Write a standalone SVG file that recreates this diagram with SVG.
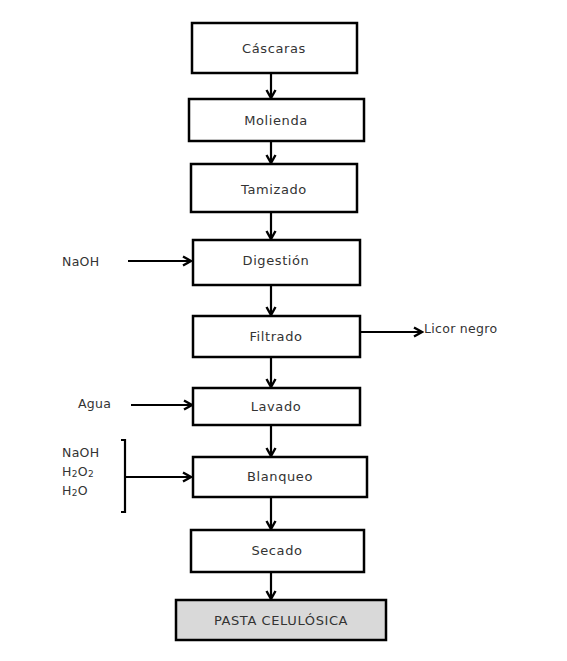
<svg xmlns="http://www.w3.org/2000/svg" width="567" height="661" viewBox="0 0 567 661">
<defs>
<style>
.box{fill:#fff;stroke:#000;stroke-width:2.5}
.end{fill:#d9d9d9;stroke:#000;stroke-width:2.5}
.t{font-family:"DejaVu Sans",Verdana,sans-serif;font-size:13px;letter-spacing:0.6px;fill:#333;text-anchor:middle;dominant-baseline:central}
.l{font-family:"DejaVu Sans",Verdana,sans-serif;font-size:12.5px;letter-spacing:0.3px;fill:#333;dominant-baseline:central}
.s{font-size:9px}
.c{stroke:#000;stroke-width:2.2;fill:none}
</style>
<marker id="a" viewBox="0 0 12 12" refX="10" refY="6" markerWidth="12" markerHeight="12" markerUnits="userSpaceOnUse" orient="auto">
<path d="M2,1.5 L10,6 L2,10.5" fill="none" stroke="#000" stroke-width="2.4"/>
</marker>
</defs>
<rect width="567" height="661" fill="#fff"/>
<g id="connectors">
<line class="c" x1="271" y1="73" x2="271" y2="98" marker-end="url(#a)"/>
<line class="c" x1="271" y1="141" x2="271" y2="163" marker-end="url(#a)"/>
<line class="c" x1="271" y1="212" x2="271" y2="239" marker-end="url(#a)"/>
<line class="c" x1="271" y1="285" x2="271" y2="315" marker-end="url(#a)"/>
<line class="c" x1="271" y1="357" x2="271" y2="387" marker-end="url(#a)"/>
<line class="c" x1="271" y1="425" x2="271" y2="456" marker-end="url(#a)"/>
<line class="c" x1="271" y1="497" x2="271" y2="529" marker-end="url(#a)"/>
<line class="c" x1="271" y1="572" x2="271" y2="599" marker-end="url(#a)"/>
<line class="c" x1="128" y1="261" x2="191" y2="261" marker-end="url(#a)"/>
<line class="c" x1="360" y1="332" x2="422" y2="332" marker-end="url(#a)"/>
<line class="c" x1="131" y1="405" x2="192" y2="405" marker-end="url(#a)"/>
<path class="c" d="M121,440 L125,440 L125,512 L121,512"/>
<line class="c" x1="125" y1="477" x2="191" y2="477" marker-end="url(#a)"/>
</g>
<g id="n1"><rect class="box" x="192" y="23" width="165" height="50"/><text class="t" x="274" y="48">Cáscaras</text></g>
<g id="n2"><rect class="box" x="189" y="99" width="175" height="42"/><text class="t" x="276" y="120">Molienda</text></g>
<g id="n3"><rect class="box" x="191" y="164" width="166" height="48"/><text class="t" x="274" y="189">Tamizado</text></g>
<g id="n4"><rect class="box" x="193" y="240" width="167" height="45"/><text class="t" x="276" y="260">Digestión</text></g>
<g id="n5"><rect class="box" x="193" y="316" width="167" height="41"/><text class="t" x="276" y="336">Filtrado</text></g>
<g id="n6"><rect class="box" x="193" y="388" width="167" height="37"/><text class="t" x="276" y="406">Lavado</text></g>
<g id="n7"><rect class="box" x="193" y="457" width="174" height="40"/><text class="t" x="280" y="476">Blanqueo</text></g>
<g id="n8"><rect class="box" x="191" y="530" width="173" height="42"/><text class="t" x="277" y="550">Secado</text></g>
<g id="n9"><rect class="end" x="176" y="600" width="210" height="40"/><text class="t" x="281" y="620">PASTA CELULÓSICA</text></g>
<g id="labels">
<text class="l" x="62" y="261">NaOH</text>
<text class="l" x="424" y="328">Licor negro</text>
<text class="l" x="78" y="403">Agua</text>
<text class="l" x="62" y="452">NaOH</text>
<text class="l" x="62" y="471">H<tspan class="s" dy="3">2</tspan><tspan dy="-3">O</tspan><tspan class="s" dy="3">2</tspan></text>
<text class="l" x="62" y="490">H<tspan class="s" dy="3">2</tspan><tspan dy="-3">O</tspan></text>
</g>
</svg>
